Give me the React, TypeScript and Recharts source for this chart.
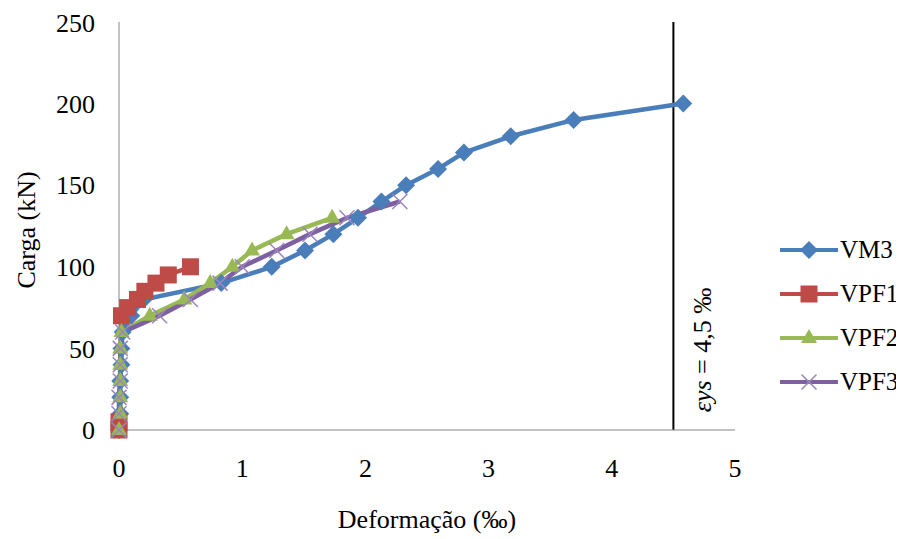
import React from 'react';
import { LineChart, Line, XAxis, YAxis, ReferenceLine, Legend } from 'recharts';

// Deformação (‰) / Carga (kN)
const vm3X = [0, 0.01, 0.01, 0.01, 0.02, 0.02, 0.03, 0.1, 0.2, 0.83, 1.24, 1.51, 1.74, 1.94, 2.13, 2.33, 2.59, 2.8, 3.18, 3.69, 4.58];
const vm3Y = [0, 10, 20, 30, 40, 50, 60, 70, 80, 90, 100, 110, 120, 130, 140, 150, 160, 170, 180, 190, 200];

const vpf1X = [0, 0, 0.02, 0.07, 0.15, 0.21, 0.3, 0.4, 0.58];
const vpf1Y = [0, 5, 70, 75, 80, 85, 90, 95, 100];

const vpf2X = [0, 0.01, 0.01, 0.01, 0.01, 0.01, 0.02, 0.25, 0.53, 0.74, 0.92, 1.08, 1.36, 1.73];
const vpf2Y = [0, 10, 20, 30, 40, 50, 60, 70, 80, 90, 100, 110, 120, 130];

const vpf3X = [0, 0, 0, 0.01, 0.01, 0.01, 0.03, 0.33, 0.58, 0.82, 1.0, 1.28, 1.55, 1.85, 2.28];
const vpf3Y = [0, 10, 20, 30, 40, 50, 60, 70, 80, 90, 100, 110, 120, 130, 140];

const xTicks = [0, 1, 2, 3, 4, 5];
const yTicks = [0, 50, 100, 150, 200, 250];
const yieldStrain = 4.5;

const toPoints = (xs: number[], ys: number[]) => xs.map((x, i) => ({ x, y: ys[i] }));

const FONT = '"Liberation Serif", "Times New Roman", serif';

const series = [
  { name: 'VM3', data: toPoints(vm3X, vm3Y), color: '#4A7EBB', marker: 'diamond' },
  { name: 'VPF1', data: toPoints(vpf1X, vpf1Y), color: '#BE4B48', marker: 'square' },
  { name: 'VPF2', data: toPoints(vpf2X, vpf2Y), color: '#98B954', marker: 'triangle' },
  { name: 'VPF3', data: toPoints(vpf3X, vpf3Y), color: '#7D60A0', marker: 'cross' },
];

function Marker({ type, cx, cy, color }: { type: string; cx: number; cy: number; color: string }) {
  if (type === 'diamond') {
    const r = 9;
    return <path d={`M${cx},${cy - r}L${cx + r},${cy}L${cx},${cy + r}L${cx - r},${cy}Z`} fill={color} />;
  }
  if (type === 'square') {
    return <rect x={cx - 8.5} y={cy - 8.5} width={17} height={17} fill={color} />;
  }
  if (type === 'triangle') {
    return <path d={`M${cx},${cy - 9}L${cx + 8},${cy + 5}L${cx - 8},${cy + 5}Z`} fill={color} />;
  }
  const r = 7.5;
  return (
    <path
      d={`M${cx - r},${cy - r}L${cx + r},${cy + r}M${cx - r},${cy + r}L${cx + r},${cy - r}`}
      stroke="#9B85BD"
      strokeWidth={1.5}
      fill="none"
    />
  );
}

const makeDot = (type: string, color: string) => (props: any) => {
  const { cx, cy, index } = props;
  if (cx == null || cy == null) return <g key={index} />;
  return <Marker key={index} type={type} cx={cx} cy={cy} color={color} />;
};

const YLabel = (props: any) => {
  const vb = props.viewBox || {};
  const cy = vb.y + vb.height / 2 + 4;
  return (
    <text x={18} y={cy} transform={`rotate(-90, 18, ${cy})`} textAnchor="middle" dominantBaseline="central"
      fontFamily={FONT} fontSize={26} fill="#000">
      Carga (kN)
    </text>
  );
};

const XLabel = (props: any) => {
  const vb = props.viewBox || {};
  return (
    <text x={vb.x + vb.width / 2} y={vb.y + 98} textAnchor="middle" fontFamily={FONT} fontSize={26} fill="#000">
      Deformação (‰)
    </text>
  );
};

const StrainLabel = (props: any) => {
  const vb = props.viewBox || {};
  const x = vb.x + 29;
  const y = vb.y + vb.height - 80;
  return (
    <text x={x} y={y} transform={`rotate(-90, ${x}, ${y})`} textAnchor="middle" dominantBaseline="central"
      fontFamily={FONT} fontSize={26} fill="#000">
      <tspan fontStyle="italic">εys</tspan> = 4,5 ‰
    </text>
  );
};

const LegendContent = () => (
  <div style={{ fontFamily: FONT, fontSize: 25, color: '#000' }}>
    {series.map((s) => (
      <div key={s.name} style={{ display: 'flex', alignItems: 'center', height: 44 }}>
        <svg width={58} height={20}>
          <line x1={0} y1={10} x2={58} y2={10} stroke={s.color} strokeWidth={4} />
          <Marker type={s.marker} cx={29} cy={10} color={s.color} />
        </svg>
        <span style={{ marginLeft: 2 }}>{s.name}</span>
      </div>
    ))}
  </div>
);

export default function App() {
  return (
    <div style={{ width: 896, height: 531, background: '#fff' }}>
      <LineChart width={896} height={531} margin={{ top: 14, right: 169, bottom: 79, left: 0 }}>
        <XAxis
          type="number"
          dataKey="x"
          domain={[0, 5]}
          ticks={xTicks}
          allowDuplicatedCategory={false}
          tickLine={false}
          tickSize={0}
          tickMargin={29}
          height={30}
          stroke="#868686"
          tick={{ fill: '#000', fontFamily: FONT, fontSize: 26 }}
          label={<XLabel />}
        />
        <YAxis
          type="number"
          dataKey="y"
          domain={[0, 250]}
          ticks={yTicks}
          tickLine={false}
          tickSize={0}
          tickMargin={24}
          width={111}
          stroke="#868686"
          tick={{ fill: '#000', fontFamily: FONT, fontSize: 26 }}
          label={<YLabel />}
        />
        <ReferenceLine x={yieldStrain} stroke="#000" strokeWidth={2} label={<StrainLabel />} />
        {series.map((s) => (
          <Line
            key={s.name}
            data={s.data}
            dataKey="y"
            name={s.name}
            type="linear"
            stroke={s.color}
            strokeWidth={4.5}
            dot={makeDot(s.marker, s.color)}
            activeDot={false}
            isAnimationActive={false}
          />
        ))}
        <Legend
          layout="vertical"
          align="center"
          verticalAlign="middle"
          content={<LegendContent />}
          wrapperStyle={{ position: 'absolute', left: 772, top: 220, width: 124 }}
        />
      </LineChart>
    </div>
  );
}
